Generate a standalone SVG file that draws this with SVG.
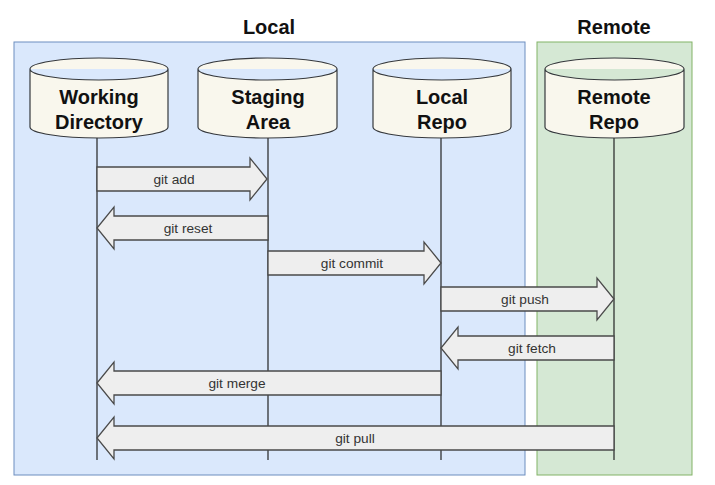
<svg xmlns="http://www.w3.org/2000/svg" width="715" height="485" viewBox="0 0 715 485">
<style>
.title{font-family:"Liberation Sans",Arial,sans-serif;font-weight:bold;font-size:20px;fill:#111;text-anchor:middle}
.node{font-family:"Liberation Sans",Arial,sans-serif;font-weight:bold;font-size:20px;fill:#111;text-anchor:middle}
.cyl{fill:#f9f7ed;stroke:#36393d;stroke-width:1.2}
.life{stroke:#222;stroke-width:1.2;fill:none}
.arrow{fill:#eeeeee;stroke:#4a4a4a;stroke-width:1.3;stroke-linejoin:miter}
.lbl{font-family:"Liberation Sans",Arial,sans-serif;font-size:13.7px;fill:#333;text-anchor:middle}
</style>
<rect width="715" height="485" fill="#ffffff"/>
<g id="local-group">
<rect x="14" y="42" width="511" height="433" fill="#dae8fc" stroke="#6c8ebf" stroke-width="1"/>
<text class="title" x="269" y="34">Local</text>
</g>
<g id="remote-group">
<rect x="537" y="42" width="155" height="433" fill="#d5e8d4" stroke="#82b366" stroke-width="1"/>
<text class="title" x="614" y="34">Remote</text>
</g>
<g id="lifelines">
<line class="life" x1="97" y1="138" x2="97" y2="460"/>
<line class="life" x1="268" y1="138" x2="268" y2="460"/>
<line class="life" x1="441" y1="138" x2="441" y2="460"/>
<line class="life" x1="614" y1="138" x2="614" y2="460"/>
</g>
<g id="working-directory">
<path class="cyl" d="M30,69 A69,11 0 0 1 168,69 L168,127 A69,11 0 0 1 30,127 Z M30,69 A69,11 0 0 0 168,69"/>
<text class="node" x="99" y="104">Working</text>
<text class="node" x="99" y="129">Directory</text>
</g>
<g id="staging-area">
<path class="cyl" d="M198,69 A69.5,11 0 0 1 337,69 L337,127 A69.5,11 0 0 1 198,127 Z M198,69 A69.5,11 0 0 0 337,69"/>
<text class="node" x="268" y="104">Staging</text>
<text class="node" x="268" y="129">Area</text>
</g>
<g id="local-repo">
<path class="cyl" d="M373,69 A69,11 0 0 1 511,69 L511,127 A69,11 0 0 1 373,127 Z M373,69 A69,11 0 0 0 511,69"/>
<text class="node" x="442" y="104">Local</text>
<text class="node" x="442" y="129">Repo</text>
</g>
<g id="remote-repo">
<path class="cyl" d="M545,69 A69.5,11 0 0 1 684,69 L684,127 A69.5,11 0 0 1 545,127 Z M545,69 A69.5,11 0 0 0 684,69"/>
<text class="node" x="614" y="104">Remote</text>
<text class="node" x="614" y="129">Repo</text>
</g>
<g id="connectors">
<g id="git-add">
<path class="arrow" d="M97,167 L250,167 L250,158 L267,179 L250,200 L250,191 L97,191 Z"/>
<text class="lbl" x="174" y="184">git add</text>
</g>
<g id="git-reset">
<path class="arrow" d="M268,216 L114,216 L114,207 L97,228 L114,249 L114,240 L268,240 Z"/>
<text class="lbl" x="188" y="233">git reset</text>
</g>
<g id="git-commit">
<path class="arrow" d="M268,251 L424,251 L424,242 L441,263 L424,284 L424,275 L268,275 Z"/>
<text class="lbl" x="352" y="268">git commit</text>
</g>
<g id="git-push">
<path class="arrow" d="M441,287 L597,287 L597,278 L614,299 L597,320 L597,311 L441,311 Z"/>
<text class="lbl" x="525" y="304">git push</text>
</g>
<g id="git-fetch">
<path class="arrow" d="M614,336 L458,336 L458,327 L441,348 L458,369 L458,360 L614,360 Z"/>
<text class="lbl" x="532" y="353">git fetch</text>
</g>
<g id="git-merge">
<path class="arrow" d="M441,371 L114,371 L114,362 L97,383 L114,404 L114,395 L441,395 Z"/>
<text class="lbl" x="237" y="388">git merge</text>
</g>
<g id="git-pull">
<path class="arrow" d="M614,426 L114,426 L114,417 L97,438 L114,459 L114,450 L614,450 Z"/>
<text class="lbl" x="355" y="443">git pull</text>
</g>
</g>
</svg>
